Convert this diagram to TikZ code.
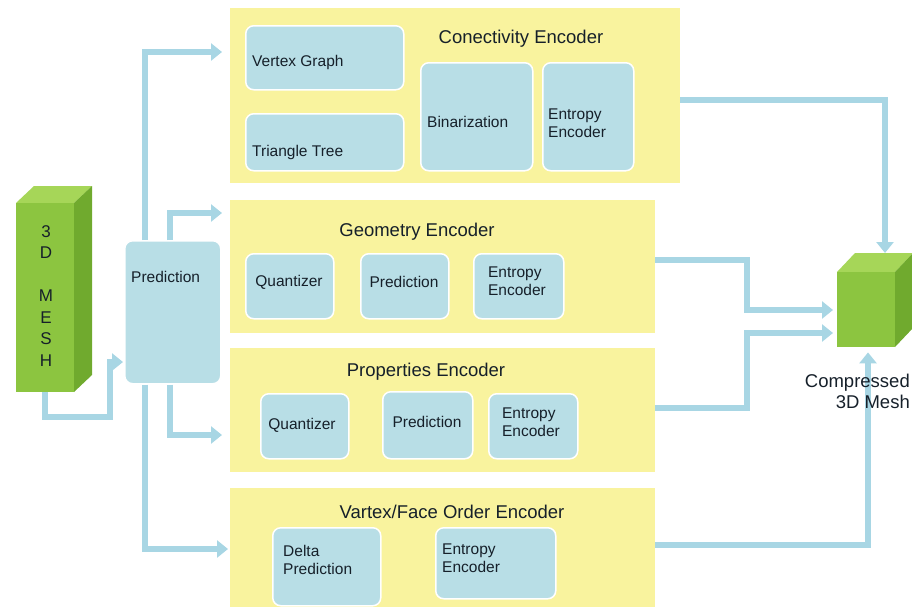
\documentclass[tikz,border=0pt]{standalone}
\usepackage{fontspec}
\setmainfont{Liberation Sans}
\usetikzlibrary{arrows.meta,calc}
\definecolor{panelyellow}{RGB}{249,243,158}
\definecolor{boxblue}{RGB}{184,222,230}
\definecolor{linkblue}{RGB}{168,214,228}
\definecolor{txt}{RGB}{22,32,42}
\definecolor{gfront}{RGB}{140,197,64}
\definecolor{gside}{RGB}{112,170,46}
\definecolor{gtop}{RGB}{166,214,88}
\begin{document}
\begin{tikzpicture}[x=1pt,y=-1pt,
  panel/.style={fill=panelyellow, draw=none, inner sep=0pt, anchor=north west},
  blk/.style={fill=boxblue, draw=white, line width=1.5pt, rounded corners=8pt, inner sep=0pt, anchor=north west},
  lbl/.style={text=txt, font=\fontsize{15.5}{18}\selectfont, inner sep=0pt, align=left},
  ttl/.style={text=txt, font=\fontsize{18.5}{21}\selectfont, inner sep=0pt},
  arr/.style={draw=linkblue, line width=6pt, -{Triangle[width=17pt,length=11pt]}}]
\useasboundingbox (0,0) rectangle (912,606);
\clip (0,0) rectangle (912,606);

% panels
\node[panel, minimum width=450pt, minimum height=175pt] (conn) at (230,8) {};
\node[panel, minimum width=425pt, minimum height=133pt] (geo) at (230,200) {};
\node[panel, minimum width=425pt, minimum height=124pt] (prop) at (230,348) {};
\node[panel, minimum width=425pt, minimum height=120pt] (vert) at (230,488) {};

% titles
\node[ttl] (t1) at (521,39) {Conectivity Encoder};
\node[ttl] (t2) at (417,232) {Geometry Encoder};
\node[ttl] (t3) at (426,372) {Properties Encoder};
\node[ttl] (t4) at (452,512) {Vartex/Face Order Encoder};

% connectivity boxes
\node[blk, minimum width=158pt, minimum height=64pt] (vg) at (245,25) {};
\node[blk, minimum width=158pt, minimum height=57pt] (tt) at (245,113) {};
\node[blk, minimum width=112pt, minimum height=108pt] (bin) at (420,62) {};
\node[blk, minimum width=91pt, minimum height=108pt] (ent1) at (542,62) {};
\node[lbl, anchor=west] (vgt) at (252,62) {Vertex Graph};
\node[lbl, anchor=west] (ttt) at (252,152) {Triangle Tree};
\node[lbl, anchor=west] (bint) at (427,122) {Binarization};
\node[lbl, anchor=west] (ent1t) at (548,123) {Entropy\\Encoder};

% geometry boxes
\node[blk, minimum width=88pt, minimum height=65pt] (q1) at (245,253) {};
\node[blk, minimum width=88pt, minimum height=65pt] (p1) at (360,253) {};
\node[blk, minimum width=90pt, minimum height=65pt] (ent2) at (473,253) {};
\node[lbl] (q1t) at (289,282) {Quantizer};
\node[lbl] (p1t) at (404,282) {Prediction};
\node[lbl] (ent2t) at (517,281) {Entropy\\Encoder};

% properties boxes
\node[blk, minimum width=88pt, minimum height=65pt] (q2) at (260,393) {};
\node[blk, minimum width=90pt, minimum height=67pt] (p2) at (382,391) {};
\node[blk, minimum width=89pt, minimum height=65pt] (ent3) at (488,393) {};
\node[lbl] (q2t) at (302,425) {Quantizer};
\node[lbl] (p2t) at (427,422) {Prediction};
\node[lbl] (ent3t) at (531,422) {Entropy\\Encoder};

% vertex/face order boxes
\node[blk, minimum width=108pt, minimum height=78pt] (delta) at (272,527) {};
\node[blk, minimum width=120pt, minimum height=71pt] (ent4) at (435,527) {};
\node[lbl, anchor=west] (deltat) at (283,560) {Delta\\Prediction};
\node[lbl, anchor=west] (ent4t) at (442,558) {Entropy\\Encoder};

% prediction box
\node[blk, minimum width=96pt, minimum height=143pt] (pred) at (124,240) {};
\node[lbl, anchor=west] (predt) at (131,277) {Prediction};

% 3D mesh cuboid
\fill[gtop] (16,203) -- (74,203) -- (92,186) -- (34,186) -- cycle;
\fill[gside] (74,203) -- (92,186) -- (92,375) -- (74,392) -- cycle;
\node[fill=gfront, inner sep=0pt, minimum width=58pt, minimum height=189pt, anchor=north west] (mesh) at (16,203) {};
\node[text=txt, font=\fontsize{17}{21.5}\selectfont, align=center, inner sep=0pt, anchor=north] (mesht) at (46,225) {3\\D\\\mbox{}\\M\\E\\S\\H};

% compressed cube
\fill[gtop] (837,272) -- (895,272) -- (913,253) -- (855,253) -- cycle;
\fill[gside] (895,272) -- (913,253) -- (913,328) -- (895,347) -- cycle;
\node[fill=gfront, inner sep=0pt, minimum width=58pt, minimum height=75pt, anchor=north west] (comp) at (837,272) {};
\coordinate (ctop) at (885,253);

% connectors
\draw[arr, shorten >=1pt] (mesh.south) |- (110,417) |- (pred.west |- 0,362);
\draw[arr, shorten >=8pt] (pred.north -| 145,0) |- (conn.west |- 0,52);
\draw[arr, shorten >=8pt] (pred.north -| 170,0) |- (geo.west |- 0,213);
\draw[arr, shorten >=8pt] (pred.south -| 170,0) |- (prop.west |- 0,435);
\draw[arr, shorten >=2pt] (pred.south -| 145,0) |- (vert.west |- 0,549);

\draw[arr] (conn.east |- 0,100) -| (ctop);
\draw[arr, shorten >=4pt] (geo.east |- 0,260) -| (747,310) -- (comp.west |- 0,310);
\draw[arr, shorten >=4pt] (prop.east |- 0,408) -| (747,333) -- (comp.west |- 0,333);
\draw[arr, shorten >=5pt] (vert.east |- 0,545) -| (comp.south -| 868,0);

% label drawn over the connector
\node[text=txt, font=\fontsize{18.5}{21}\selectfont, align=right, inner sep=0pt, anchor=east] (compt) at (910,391) {Compressed\\3D Mesh};
\end{tikzpicture}
\end{document}
